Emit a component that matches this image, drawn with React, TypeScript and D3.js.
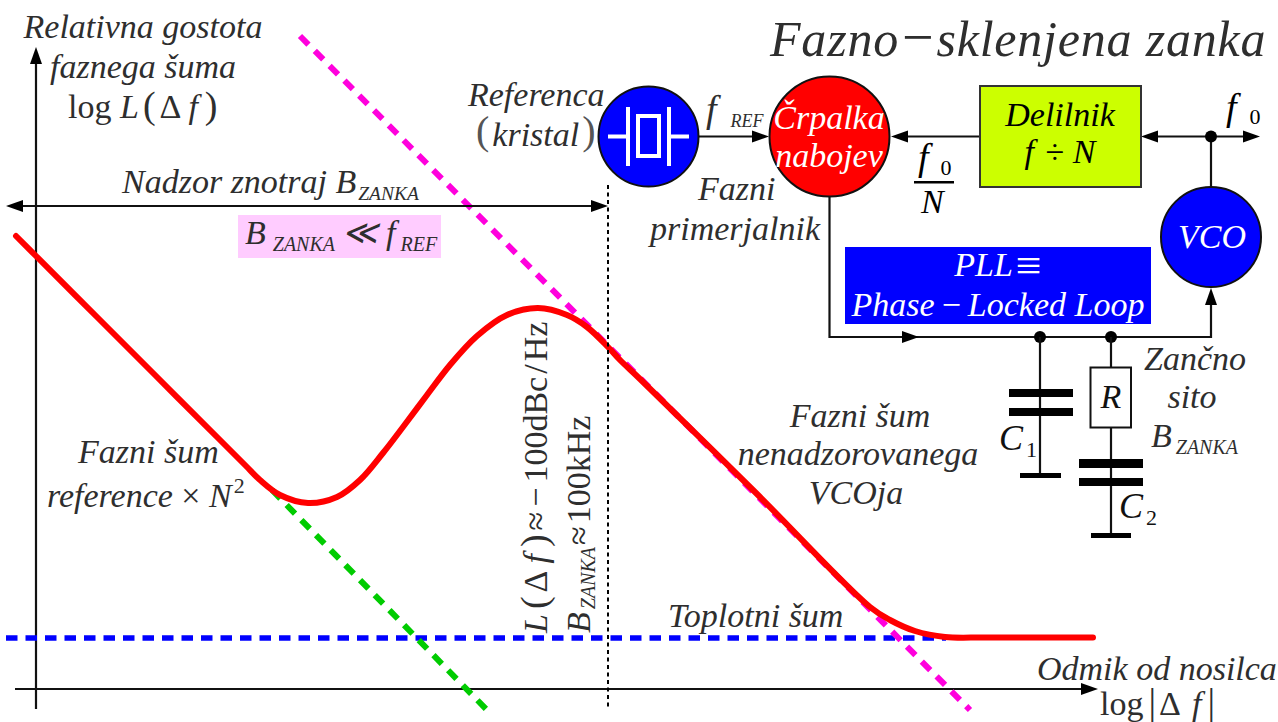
import React from "react";
import * as d3 from "d3";

const W = 1278, H = 722;
// axes in decades of offset and in tens of dB above the x axis
const curveX = [-0.2, 0, 0.6, 1.2, 1.8, 2.1, 2.24, 2.44, 2.72, 3.01, 3.24, 3.47, 3.67, 3.91, 4.14, 4.41, 4.71, 5.02, 5.31, 5.51, 5.72, 5.84, 6.04, 7.2, 8.34, 8.54, 8.79, 9.09, 9.5, 10.57];
const curveY = [4.53, 4.33, 3.73, 3.13, 2.53, 2.23, 2.09, 1.94, 1.86, 1.92, 2.09, 2.36, 2.62, 2.94, 3.24, 3.53, 3.74, 3.81, 3.74, 3.62, 3.42, 3.29, 3.10, 1.96, 0.82, 0.69, 0.58, 0.52, 0.515, 0.515];
const magentaX = [2.64, 9.34];
const magentaY = [6.53, -0.21];
const greenX = [2.36, 4.51];
const greenY = [1.99, -0.21];
const blueX = [-0.3, 9.1];
const blueY = [0.51, 0.51];
const loopBandwidthX = 5.72;

const x = d3.scaleLinear().domain([0, 12]).range([36, 1236]);
const y = d3.scaleLinear().domain([0, 6]).range([689, 89]);
const zip = (a: number[], b: number[]) => a.map((v, i) => [v, b[i]] as [number, number]);
const curve = d3.line<[number, number]>().x(d => x(d[0])).y(d => y(d[1])).curve(d3.curveCatmullRom.alpha(0.5));
const straight = d3.line<[number, number]>().x(d => x(d[0])).y(d => y(d[1]));

const serif = "'Liberation Serif', 'Times New Roman', serif";
const ink = "#2e2e2e";

function T({ x, y, s = 34, fill = ink, a = "start", ls = 0, rot, children }: any) {
  return (
    <text x={x} y={y} fontSize={s} fill={fill} textAnchor={a} fontFamily={serif} fontStyle="italic" letterSpacing={ls}
      transform={rot ? `rotate(${rot} ${x} ${y})` : undefined} xmlSpace="preserve">{children}</text>
  );
}
const Sub = ({ s = 20, dx = 8, dy = 7, ch }: any) => <tspan fontSize={s} dx={dx} dy={dy}>{ch}</tspan>;
const R = ({ children, ...p }: any) => <tspan fontStyle="normal" {...p}>{children}</tspan>;

function Arrow({ x: ax, y: ay, dir, len = 17, hw = 6 }: any) {
  const d = dir === "r" ? `M${ax},${ay}l${-len},${-hw}v${2 * hw}z`
    : dir === "l" ? `M${ax},${ay}l${len},${-hw}v${2 * hw}z`
      : `M${ax},${ay}l${-hw},${len}h${2 * hw}z`;
  return <path d={d} fill="#000" />;
}
const L = ({ x1, y1, x2, y2, w = 2.2, c = "#111" }: any) => <line x1={x1} y1={y1} x2={x2} y2={y2} stroke={c} strokeWidth={w} />;
const Bar = ({ x: bx, y: by, w, h }: any) => <rect x={bx} y={by} width={w} height={h} fill="#000" />;

export default function App() {
  document.body.style.margin = "0";
  const bx = x(loopBandwidthX);
  return (
    <svg width={W} height={H} style={{ display: "block", background: "#fff" }}>
      {/* axes */}
      <L x1={36} y1={709} x2={36} y2={60} />
      <Arrow x={36} y={47} dir="u" len={17} />
      <L x1={15} y1={689} x2={1085} y2={689} />
      <Arrow x={1098} y={689} dir="r" />
      {/* traces */}
      <path d={straight(zip(blueX, blueY))!} fill="none" stroke="#0000ff" strokeWidth={5.5} strokeDasharray="11.5 8" />
      <path d={straight(zip(greenX, greenY))!} fill="none" stroke="#00cc00" strokeWidth={6} strokeDasharray="12 9" />
      <path d={straight(zip(magentaX, magentaY))!} fill="none" stroke="#ff00dd" strokeWidth={6} strokeDasharray="12 9" />
      <path d={curve(zip(curveX, curveY))!} fill="none" stroke="#ff0000" strokeWidth={6} strokeLinecap="round" />
      {/* bandwidth marker */}
      <line x1={bx} y1={185} x2={bx} y2={709} stroke="#000" strokeWidth={2} strokeDasharray="4 3.5" />
      <L x1={20} y1={206} x2={595} y2={206} />
      <Arrow x={6} y={206} dir="l" />
      <Arrow x={608} y={206} dir="r" />
      <rect x={238} y={215} width={203} height={43} fill="#ffccff" />

      {/* text left */}
      <T x={143} y={38} a="middle">Relativna gostota</T>
      <T x={143} y={78} a="middle">faznega šuma</T>
      <T x={68} y={118}><R>log </R>L<R dx={4} fontSize={38}>(</R><R dx={4}>Δ</R><tspan dx={7}>f</tspan><R dx={7} fontSize={38}>)</R></T>
      <T x={122} y={193}>Nadzor znotraj B<Sub dx={2} s={19.5} ch="ZANKA" /></T>
      <T x={245} y={244}>B<Sub dx={7} ch="ZANKA" /><tspan dy={-7} dx={-2}> ≪ f</tspan><Sub dx={5} ch="REF" /></T>
      <T x={78} y={463}>Fazni šum</T>
      <T x={47} y={507}>reference<R> × </R>N<tspan fontSize={22} dy={-14} fontStyle="normal" dx={2}>2</tspan></T>

      {/* rotated */}
      <T x={547} y={633} rot={-90}>L<R dx={5} fontSize={38}>(</R><R dx={4}>Δ</R><tspan dx={7}>f</tspan><R dx={7} fontSize={38}>)</R><R dx={4}>≈</R><R dx={5}>−</R><R dx={5}>100dBc</R><R dx={3}>/</R><R dx={3}>Hz</R></T>
      <T x={590} y={633} rot={-90}>B<Sub dx={3} ch="ZANKA" s={20} dy={5} /><R dy={-5} dx={2}>≈</R><R dx={3}>100kHz</R></T>

      <T x={668} y={627}>Toplotni šum</T>
      <T x={860} y={427} a="middle">Fazni šum</T>
      <T x={858} y={465} a="middle">nenadzorovanega</T>
      <T x={856} y={504} a="middle">VCOja</T>
      <T x={1037} y={680}>Odmik od nosilca</T>
      <T x={1100} y={715}><R>log</R><R dx={5} fontSize={38}>|</R><R dx={3}>Δ</R><tspan dx={11}>f</tspan><R dx={6} fontSize={38}>|</R></T>

      {/* title */}
      <T x={770} y={56} s={50} ls={0.8}>Fazno<R dx={3} fontSize={56}>−</R><tspan dx={2}>sklenjena zanka</tspan></T>

      {/* circuit wires */}
      <L x1={699} y1={136.5} x2={755} y2={136.5} />
      <Arrow x={769} y={136.5} dir="r" />
      <L x1={905} y1={136.5} x2={980} y2={136.5} />
      <Arrow x={891} y={136.5} dir="l" />
      <L x1={1155} y1={136.5} x2={1248} y2={136.5} />
      <Arrow x={1141} y={136.5} dir="l" />
      <Arrow x={1260} y={136.5} dir="r" />
      <L x1={1211} y1={136.5} x2={1211} y2={187} />
      <circle cx={1211} cy={136.5} r={6} fill="#000" />
      <path d="M829.5,197V337H1211V300" fill="none" stroke="#111" strokeWidth={2.2} />
      <Arrow x={1211} y={288} dir="u" />
      <Arrow x={919} y={337} dir="r" />
      <circle cx={1040} cy={337} r={6} fill="#000" />
      <circle cx={1111} cy={337} r={6} fill="#000" />
      <L x1={1040} y1={337} x2={1040} y2={475} />
      <Bar x={1009} y={389} w={64} h={8} />
      <Bar x={1009} y={408} w={64} h={8} />
      <Bar x={1020} y={473} w={41} h={5} />
      <L x1={1111} y1={337} x2={1111} y2={535} />
      <rect x={1090.5} y={367.5} width={40.5} height={60} fill="#fff" stroke="#111" strokeWidth={2} />
      <Bar x={1079} y={459} w={64} h={9} />
      <Bar x={1079} y={478} w={64} h={8} />
      <Bar x={1091} y={533} w={40} h={5} />

      {/* blocks */}
      <circle cx={648.5} cy={136.5} r={50} fill="#0000ff" stroke="#111" strokeWidth={2} />
      <g stroke="#fff" strokeWidth={4} fill="none">
        <path d="M608,136.5H628M628,107V166M669,107V166M669,136.5H689" />
        <rect x={638} y={116} width={21} height={40} />
      </g>
      <circle cx={829.5} cy={136.5} r={60} fill="#ff0000" stroke="#111" strokeWidth={2} />
      <circle cx={1211} cy={237} r={50} fill="#0000ff" stroke="#111" strokeWidth={2} />
      <rect x={980} y={86} width={161} height={101} fill="#ccff00" stroke="#333" strokeWidth={2} />
      <rect x={845} y={247} width={306} height={77} fill="#0000ff" />

      {/* block text */}
      <T x={829} y={129} a="middle" fill="#fff">Črpalka</T>
      <T x={829} y={167} a="middle" fill="#fff">nabojev</T>
      <T x={1212} y={248} a="middle" fill="#fff">VCO</T>
      <T x={998} y={276} a="middle" fill="#fff">PLL<R dx={3} fontSize={46} dy={5}>≡</R></T>
      <T x={998} y={316} a="middle" fill="#fff">Phase<R dx={7}>−</R><tspan dx={7}>Locked Loop</tspan></T>
      <T x={1060} y={126} a="middle" fill="#000">Delilnik</T>
      <T x={1060} y={163} a="middle" fill="#000">f<R dx={3}> ÷ </R>N</T>
      <T x={468} y={106}>Referenca</T>
      <T x={476} y={146}><R fontSize={40} dy={-2} fill="#555">(</R><tspan dx={3} dy={2}>kristal</tspan><R dx={3} fontSize={40} dy={-2} fill="#555">)</R></T>
      <T x={706} y={122} s={38}>f<Sub dx={14} dy={5} ch="REF" s={18} /></T>
      <T x={698} y={200}>Fazni</T>
      <T x={650} y={240}>primerjalnik</T>
      <T x={918} y={170} s={38} fill="#000">f<Sub dx={12} dy={5} s={22} ch={<R>0</R>} /></T>
      <rect x={914} y={181} width={40} height={2.5} fill="#000" />
      <T x={921} y={213} fill="#000">N</T>
      <T x={1226} y={120} s={38} fill="#000">f<Sub dx={13} dy={4} s={22} ch={<R>0</R>} /></T>
      <T x={999} y={450} s={36} fill="#111">C<Sub dx={3} dy={7} s={22} ch={<R>1</R>} /></T>
      <T x={1119} y={518} s={36} fill="#111">C<Sub dx={3} dy={7} s={22} ch={<R>2</R>} /></T>
      <T x={1111} y={408} a="middle" fill="#111">R</T>
      <T x={1195} y={370} a="middle">Zančno</T>
      <T x={1192} y={408} a="middle">sito</T>
      <T x={1151} y={447}>B<Sub dx={4} dy={7} s={20} ch="ZANKA" /></T>
    </svg>
  );
}
